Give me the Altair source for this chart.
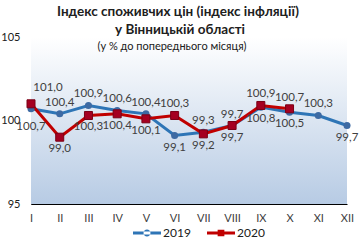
import altair as alt
import pandas as pd

months = ["I", "II", "III", "IV", "V", "VI", "VII", "VIII", "IX", "X", "XI", "XII"]
v2019 = [100.7, 100.4, 100.9, 100.6, 100.4, 99.1, 99.3, 99.7, 100.8, 100.5, 100.3, 99.7]
v2020 = [101.0, 99.0, 100.3, 100.4, 100.1, 100.3, 99.2, 99.7, 100.9, 100.7]

rows = []
for i, m in enumerate(months):
    a = v2019[i]
    b = v2020[i] if i < len(v2020) else None
    rows.append({"month": m, "year": "2019", "value": a})
    if b is not None:
        rows.append({"month": m, "year": "2020", "value": b})
df = pd.DataFrame(rows)
df["label"] = df["value"].map(lambda v: f"{v:.1f}".replace(".", ","))


def placement(r):
    others = df[(df.month == r.month) & (df.year != r.year)]
    if len(others) == 0:
        return "above" if r.value >= 100 else "below"
    o = others.iloc[0].value
    if r.value > o:
        return "above"
    if r.value < o:
        return "below"
    return "above" if r.year == "2019" else "below"


df["pos"] = df.apply(placement, axis=1)
first = months[0]

FONT = "Lato"
W, H = 316, 167
BLUE, RED = "#2e75b6", "#c00000"
BLUE_M, RED_M = "#3d6aa3", "#a50021"

x = alt.X("month:N", sort=months,
          scale=alt.Scale(type="point", padding=0),
          axis=alt.Axis(title=None, labelAngle=0, grid=True, gridColor="white",
                        gridWidth=1, domainColor="black", ticks=False,
                        labelPadding=8, labelFont=FONT, labelFontSize=11,
                        labelColor="#404040"))
y = alt.Y("value:Q", scale=alt.Scale(domain=[95, 105], nice=False, zero=False),
          axis=alt.Axis(title=None, values=[95, 100, 105], grid=False,
                        domainColor="black", ticks=False, labelPadding=11,
                        labelFont=FONT, labelFontSize=11, labelColor="#202020"))

bg = alt.Chart(pd.DataFrame({"a": [0]})).mark_rect(
    color=alt.LinearGradient(gradient="linear", x1=0, x2=0, y1=0, y2=1,
                             stops=[alt.GradientStop(color="#ffffff", offset=0),
                                    alt.GradientStop(color="#b7cbe4", offset=1)])
).encode(x=alt.value(0), x2=alt.value(W), y=alt.value(0), y2=alt.value(H))

base = alt.Chart(df).encode(x=x, y=y)

line19 = base.transform_filter("datum.year == '2019'").mark_line(color=BLUE, strokeWidth=3)
line20 = base.transform_filter("datum.year == '2020'").mark_line(color=RED, strokeWidth=3)
pts19 = base.transform_filter("datum.year == '2019'").mark_point(
    shape="circle", filled=True, color=BLUE_M, size=50, opacity=1)
pts20 = base.transform_filter("datum.year == '2020'").mark_point(
    shape="square", filled=True, color=RED_M, size=64, opacity=1,
    stroke="#7a0016", strokeWidth=1)

txt = dict(font=FONT, fontSize=11.5, color="#404040", baseline="middle")
lab_above = base.transform_filter(f"datum.pos == 'above' && datum.month != '{first}'").mark_text(
    dy=-11, **txt).encode(text="label:N")
lab_below = base.transform_filter(f"datum.pos == 'below' && datum.month != '{first}'").mark_text(
    dy=12, **txt).encode(text="label:N")
lab_above1 = base.transform_filter(f"datum.pos == 'above' && datum.month == '{first}'").mark_text(
    dy=-16, dx=17, **txt).encode(text="label:N")
lab_below1 = base.transform_filter(f"datum.pos == 'below' && datum.month == '{first}'").mark_text(
    dy=18, dx=0, **txt).encode(text="label:N")

# legend-only layer (drawn off-canvas)
circ = "M-1,-0.1L1,-0.1L1,0.1L-1,0.1Z M-0.25,0 A0.25,0.25 0 1,0 0.25,0 A0.25,0.25 0 1,0 -0.25,0 Z"
sq = "M-1,-0.1L1,-0.1L1,0.1L-1,0.1Z M-0.24,-0.24L0.24,-0.24L0.24,0.24L-0.24,0.24Z"
legend = alt.Legend(title=None, orient="none", legendX=102, legendY=182,
                    direction="horizontal", symbolSize=784,
                    symbolStrokeWidth=0, labelFont=FONT,
                    labelFontSize=12, labelColor="#202020",
                    labelOffset=2, columnPadding=16, padding=0)
leg = alt.Chart(df).mark_point(filled=True, opacity=1).encode(
    x=alt.value(-500), y=alt.value(-500),
    color=alt.Color("year:N", scale=alt.Scale(domain=["2019", "2020"], range=[BLUE, RED]),
                    legend=legend),
    shape=alt.Shape("year:N", scale=alt.Scale(domain=["2019", "2020"], range=[circ, sq]),
                    legend=legend),
)

cx = 178 - 31
one = pd.DataFrame({"a": [0]})
t1 = alt.Chart(one).mark_text(
    text="Індекс споживчих цін (індекс інфляції)", font=FONT, fontSize=13.5,
    fontWeight="bold", color="#202020", baseline="middle", align="center"
).encode(x=alt.value(cx), y=alt.value(12 - 37))
t2 = alt.Chart(one).mark_text(
    text="у Вінницькій області", font=FONT, fontSize=13.5,
    fontWeight="bold", color="#202020", baseline="middle", align="center"
).encode(x=alt.value(cx + 2), y=alt.value(30 - 37))
t3 = alt.Chart(one).mark_text(
    text="(у % до попереднього місяця)", font=FONT, fontSize=11,
    color="#202020", baseline="middle", align="center"
).encode(x=alt.value(cx - 6), y=alt.value(47 - 37))

chart = alt.layer(bg, line19, line20, pts19, pts20, lab_above, lab_below,
                  lab_above1, lab_below1, leg, t1, t2, t3).properties(
    width=W, height=H,
    autosize=alt.AutoSizeParams(type="none"),
    padding={"left": 31, "top": 37, "right": 15, "bottom": 36},
    background="white",
).configure_view(stroke=None)

chart.save("out.html", embed_options={"renderer": "svg", "actions": False})
